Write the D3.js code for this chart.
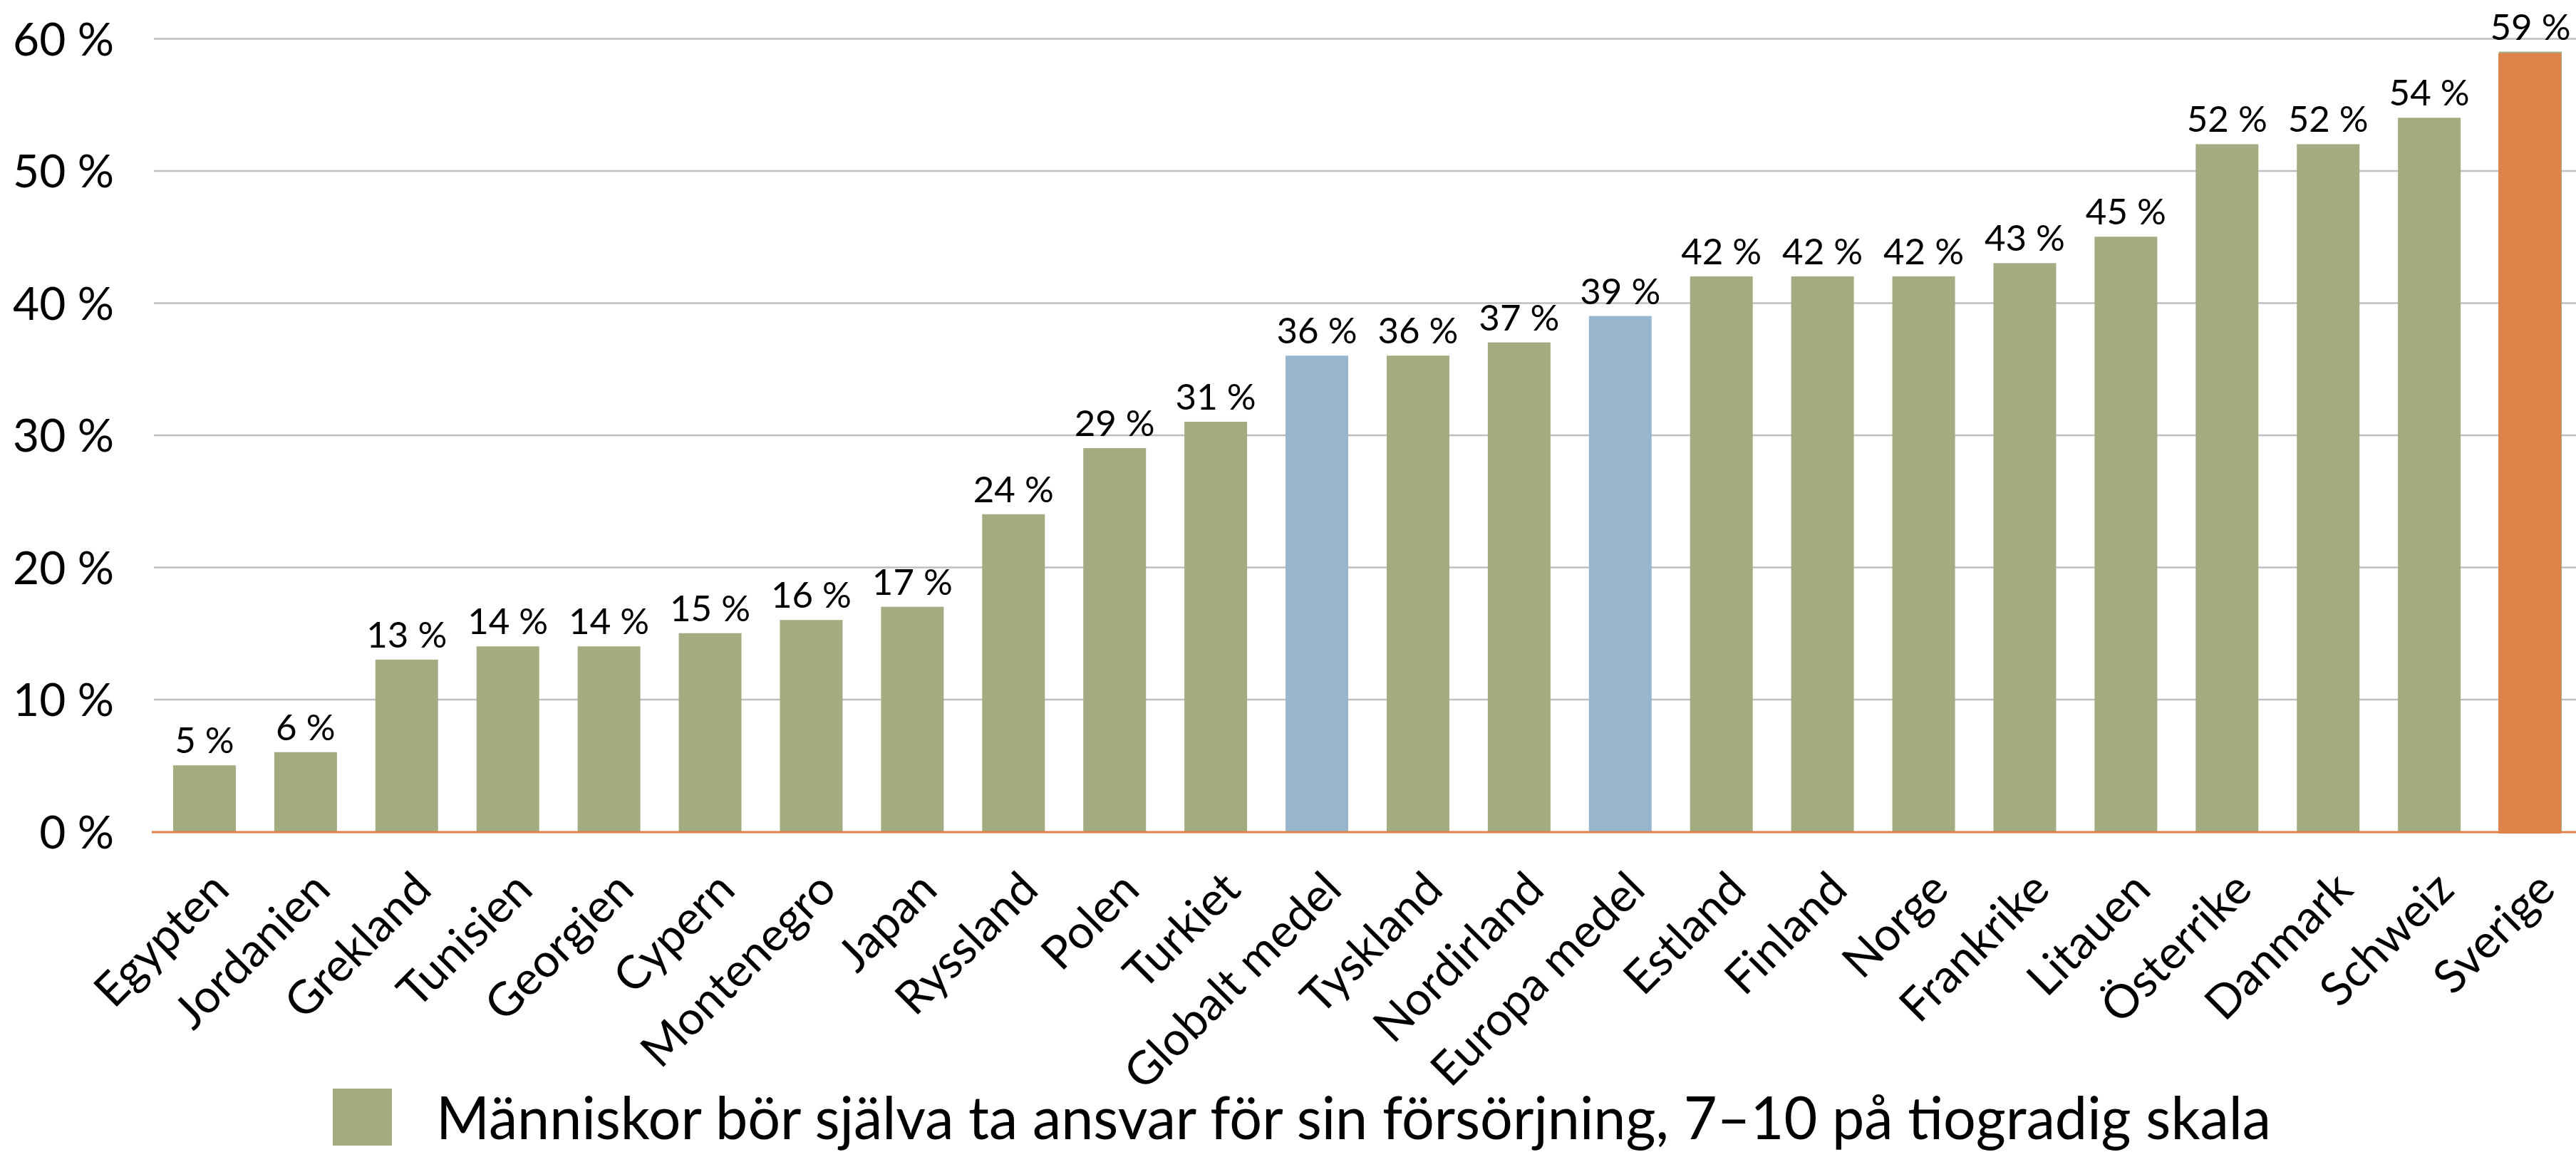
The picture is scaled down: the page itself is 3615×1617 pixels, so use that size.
<!DOCTYPE html>
<html>
<head>
<meta charset="utf-8">
<script src="https://cdn.jsdelivr.net/npm/d3@7"></script>
<style>
  body { margin: 0; background: #fff; }
  svg { display: block; font-family: Lato, "Open Sans", sans-serif; }
</style>
</head>
<body>
<div id="chart"></div>
<script>
const countries = ['Egypten', 'Jordanien', 'Grekland', 'Tunisien', 'Georgien', 'Cypern', 'Montenegro',
    'Japan', 'Ryssland', 'Polen', 'Turkiet', 'Globalt medel', 'Tyskland', 'Nordirland', 'Europa medel',
    'Estland', 'Finland', 'Norge', 'Frankrike', 'Litauen', 'Österrike', 'Danmark', 'Schweiz', 'Sverige'];
const values = [5, 6, 13, 14, 14, 15, 16, 17, 24, 29, 31, 36, 36, 37, 39, 42, 42, 42, 43, 45, 52, 52, 54, 59];
const averages = ['Globalt medel', 'Europa medel'];
const highlighted = ['Sverige'];
const yTicks = [0, 10, 20, 30, 40, 50, 60];
const legendLabel = 'Människor bör själva ta ansvar för sin försörjning, 7–10 på tiogradig skala';

const width = 3615, height = 1617;
const chartData = countries.map((c, i) => ({country: c, value: values[i]}));

const green = '#A3AC80', blue = '#97B6CE', orange = '#DD834A';

const svg = d3.select('#chart').append('svg')
    .attr('width', width)
    .attr('height', height);

const x = d3.scaleBand()
    .domain(countries)
    .range([216, 3622])
    .paddingInner(0.38)
    .paddingOuter(0.19);
const y = d3.scaleLinear()
    .domain([0, 60])
    .range([1167, 54]);

// grid lines
svg.append('g')
    .attr('id', 'grid')
    .attr('transform', 'translate(216,0)')
    .call(d3.axisLeft(y).tickValues(yTicks.filter(d => d > 0)).tickSize(-(width - 216)).tickFormat(''))
    .call(g => g.select('.domain').remove())
    .call(g => g.selectAll('line').attr('stroke', '#BFBFBF').attr('stroke-width', 2.5));

// y axis labels
svg.append('g')
    .attr('id', 'y-axis')
    .attr('transform', 'translate(160,0)')
    .call(d3.axisLeft(y).tickValues(yTicks).tickSize(0).tickPadding(0).tickFormat(d => d + ' %'))
    .call(g => g.select('.domain').remove())
    .call(g => g.selectAll('text')
        .attr('font-size', 64)
        .attr('font-family', 'Lato, sans-serif')
        .attr('fill', '#000')
        .attr('dy', '0.36em'));

// bars
const bars = svg.append('g').attr('id', 'data');
bars.selectAll('rect.bar')
    .data(chartData)
    .join('rect')
    .attr('class', 'bar')
    .attr('x', d => x(d.country))
    .attr('y', d => y(d.value))
    .attr('width', x.bandwidth())
    .attr('height', d => y(0) - y(d.value))
    .attr('fill', d => averages.includes(d.country) ? blue : green);

// baseline
svg.append('line')
    .attr('x1', 213)
    .attr('x2', width)
    .attr('y1', y(0) + 1)
    .attr('y2', y(0) + 1)
    .attr('stroke', orange)
    .attr('stroke-width', 3);

// highlighted country drawn over its bar
bars.selectAll('rect.hl')
    .data(chartData.filter(d => highlighted.includes(d.country)))
    .join('rect')
    .attr('class', 'hl')
    .attr('x', d => x(d.country) - 1)
    .attr('y', d => y(d.value) + 2)
    .attr('width', x.bandwidth())
    .attr('height', d => y(0) - y(d.value) + 1)
    .attr('fill', orange);

// value labels
svg.append('g')
    .attr('id', 'labels')
    .selectAll('text')
    .data(chartData)
    .join('text')
    .attr('x', d => x(d.country) + x.bandwidth() / 2)
    .attr('y', d => y(d.value) - 17)
    .attr('text-anchor', 'middle')
    .attr('font-size', 51)
    .text(d => d.value + ' %');

// category labels
svg.append('g')
    .attr('id', 'x-axis')
    .selectAll('text')
    .data(countries)
    .join('text')
    .attr('transform', d => `translate(${x(d) + x.bandwidth() / 2 + 38},1252) rotate(-45)`)
    .attr('text-anchor', 'end')
    .attr('font-size', 65)
    .text(d => d);

// legend
const legend = svg.append('g').attr('id', 'legend');
legend.append('rect')
    .attr('x', 467)
    .attr('y', 1528)
    .attr('width', 83)
    .attr('height', 80)
    .attr('fill', green);
legend.append('text')
    .attr('x', 612)
    .attr('y', 1599)
    .attr('font-size', 83)
    .attr('textLength', 2575)
    .attr('lengthAdjust', 'spacingAndGlyphs')
    .text(legendLabel);
</script>
</body>
</html>
